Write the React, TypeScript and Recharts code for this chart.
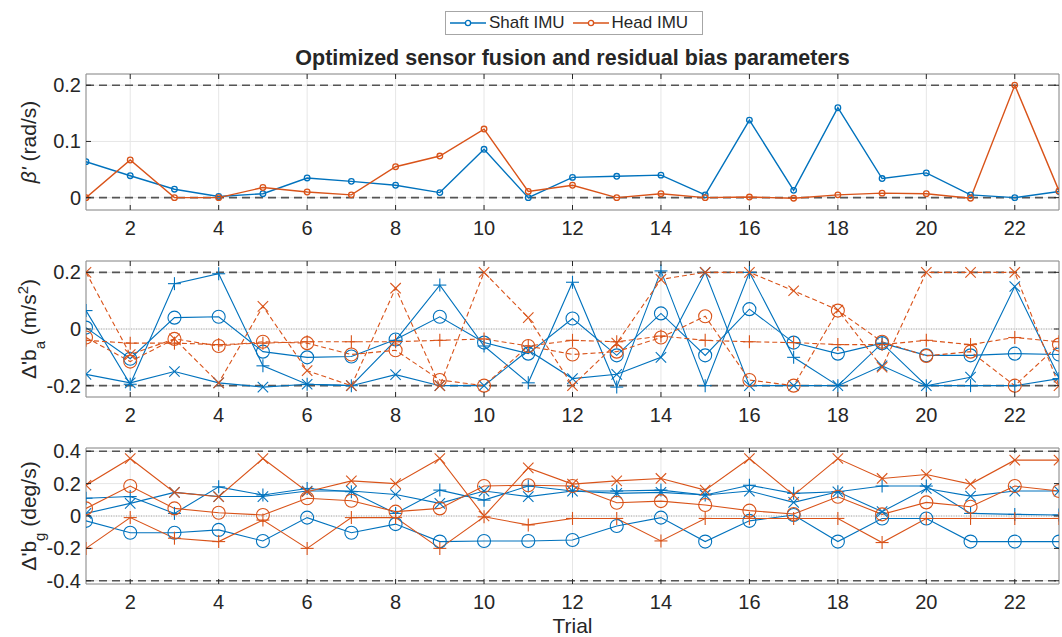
import React from 'react';
import { LineChart, Line, XAxis, YAxis, CartesianGrid, ReferenceLine, ReferenceArea } from 'recharts';

// ---------- data ----------
const trials = [1, 2, 3, 4, 5, 6, 7, 8, 9, 10, 11, 12, 13, 14, 15, 16, 17, 18, 19, 20, 21, 22, 23];
const xTicks = [2, 4, 6, 8, 10, 12, 14, 16, 18, 20, 22];

// beta' (rad/s)
const betaShaft = [0.064, 0.039, 0.015, 0.002, 0.007, 0.035, 0.029, 0.022, 0.009, 0.086, 0, 0.036, 0.038, 0.040, 0.005, 0.138, 0.013, 0.160, 0.034, 0.044, 0.005, 0, 0.011];
const betaHead = [0, 0.067, 0, 0, 0.018, 0.010, 0.005, 0.055, 0.074, 0.122, 0.011, 0.022, 0, 0.007, 0, 0.001, -0.001, 0.005, 0.008, 0.007, -0.001, 0.2, 0.012];

// residual accelerometer bias (m/s^2): x (+), y (o), z (x)
const accShaftX = [0.065, -0.195, 0.16, 0.195, -0.13, -0.195, -0.2, -0.04, 0.155, -0.06, -0.19, 0.165, -0.205, 0.205, -0.2, 0.2, -0.1, -0.2, -0.05, -0.2, -0.2, -0.2, -0.175];
const accShaftY = [0.005, -0.105, 0.04, 0.043, -0.08, -0.1, -0.097, -0.037, 0.043, -0.048, -0.087, 0.037, -0.093, 0.055, -0.093, 0.07, -0.048, -0.087, -0.05, -0.093, -0.093, -0.087, -0.09];
const accShaftZ = [-0.16, -0.19, -0.15, -0.19, -0.205, -0.195, -0.2, -0.161, -0.2, -0.2, -0.075, -0.175, -0.16, -0.1, 0.2, -0.2, -0.2, -0.2, -0.13, -0.2, -0.17, 0.15, -0.17];
const accHeadX = [-0.04, -0.05, -0.05, -0.055, -0.05, -0.045, -0.045, -0.045, -0.04, -0.035, -0.06, -0.04, -0.045, -0.025, -0.04, -0.045, -0.048, -0.055, -0.055, -0.04, -0.055, -0.03, -0.045];
const accHeadY = [-0.03, -0.115, -0.035, -0.06, -0.045, -0.05, -0.09, -0.075, -0.18, -0.2, -0.06, -0.09, -0.08, -0.03, 0.045, -0.18, -0.2, 0.065, -0.045, -0.095, -0.08, -0.2, -0.055];
const accHeadZ = [0.2, -0.09, -0.035, -0.19, 0.08, -0.147, -0.2, 0.144, -0.2, 0.2, 0.04, -0.2, -0.05, 0.175, 0.2, 0.2, 0.135, 0.067, -0.135, 0.2, 0.2, 0.2, -0.2];

// residual gyroscope bias (deg/s): x (+), y (o), z (x)
const gyrShaftX = [0.11, 0.12, 0.016, 0.18, 0.13, 0.17, 0.15, 0.016, 0.16, 0.098, 0.185, 0.154, 0.154, 0.16, 0.13, 0.19, 0.14, 0.15, 0.185, 0.185, 0.016, 0.01, 0.006];
const gyrShaftY = [-0.03, -0.103, -0.103, -0.086, -0.154, -0.01, -0.103, -0.05, -0.158, -0.154, -0.154, -0.148, -0.062, -0.01, -0.158, -0.03, 0.006, -0.158, -0.015, -0.015, -0.158, -0.158, -0.158];
const gyrShaftZ = [0.016, 0.078, 0.146, 0.12, 0.12, 0.154, 0.154, 0.133, 0.078, 0.154, 0.12, 0.154, 0.14, 0.146, 0.13, 0.154, 0.084, 0.15, 0.027, 0.17, 0.123, 0.154, 0.154];
const gyrHeadX = [-0.2, -0.01, -0.137, -0.158, -0.025, -0.2, -0.01, -0.01, -0.2, -0.005, -0.055, -0.015, -0.015, -0.154, -0.015, -0.015, -0.015, -0.015, -0.164, -0.015, -0.015, -0.015, -0.015];
const gyrHeadY = [0.047, 0.185, 0.047, 0.02, 0.006, 0.11, 0.094, 0.027, 0.047, 0.185, 0.19, 0.185, 0.082, 0.092, 0.068, 0.033, 0.012, 0.119, 0.01, 0.084, 0.057, 0.185, 0.154];
const gyrHeadZ = [0.19, 0.355, 0.146, 0.119, 0.355, 0.15, 0.217, 0.2, 0.355, 0.0, 0.297, 0.197, 0.217, 0.232, 0.16, 0.355, 0.129, 0.355, 0.232, 0.256, 0.197, 0.345, 0.345];

const betaTicks = [0, 0.1, 0.2];
const accTicks = [-0.2, 0, 0.2];
const gyrTicks = [-0.4, -0.2, 0, 0.2, 0.4];
const betaLimits = [0, 0.2];
const accLimits = [-0.2, 0.2];
const gyrLimits = [-0.4, 0.4];

// ---------- styling ----------
const BLUE = '#0072BD';
const ORANGE = '#D95319';
const FONT = '"Liberation Sans", Arial, Helvetica, sans-serif';
const TXT = '#262626';
const PLOT_W = 973;
const PLOT_H = 136;
const FRAME = '#8c8c8c';
const TICK_FS = 20;
const LABEL_FS = 21;

const betaData = trials.map((t, i) => ({ t, s: betaShaft[i], h: betaHead[i] }));
const accData = trials.map((t, i) => ({
  t, sx: accShaftX[i], sy: accShaftY[i], sz: accShaftZ[i], hx: accHeadX[i], hy: accHeadY[i], hz: accHeadZ[i],
}));
const gyrData = trials.map((t, i) => ({
  t, sx: gyrShaftX[i], sy: gyrShaftY[i], sz: gyrShaftZ[i], hx: gyrHeadX[i], hy: gyrHeadY[i], hz: gyrHeadZ[i],
}));

const XTick = (props: any) => {
  const { x, y, payload } = props;
  return (
    <g>
      <line x1={x} x2={x} y1={y} y2={y - 5} stroke={TXT} strokeWidth={1} />
      <line x1={x} x2={x} y1={y - PLOT_H} y2={y - PLOT_H + 5} stroke={TXT} strokeWidth={1} />
      <text x={x} y={y + 25} textAnchor="middle" fontSize={TICK_FS} fill={TXT} fontFamily={FONT}>{payload.value}</text>
    </g>
  );
};

const YTick = (props: any) => {
  const { x, y, payload } = props;
  return (
    <g>
      <line x1={x} x2={x + 5} y1={y} y2={y} stroke={TXT} strokeWidth={1} />
      <line x1={x + PLOT_W} x2={x + PLOT_W - 5} y1={y} y2={y} stroke={TXT} strokeWidth={1} />
      <text x={x - 5} y={y + 7} textAnchor="end" fontSize={TICK_FS} fill={TXT} fontFamily={FONT}>{String(payload.value)}</text>
    </g>
  );
};

const makeDot = (shape: string, color: string, size: number, sw: number) => (props: any) => {
  const { cx, cy, index } = props;
  if (cx == null || cy == null) return <g key={`n${index}`} />;
  if (shape === 'o') {
    return <circle key={`d${index}`} cx={cx} cy={cy} r={size} fill="none" stroke={color} strokeWidth={sw} />;
  }
  if (shape === '+') {
    return (
      <g key={`d${index}`} stroke={color} strokeWidth={sw}>
        <line x1={cx - size} x2={cx + size} y1={cy} y2={cy} />
        <line x1={cx} x2={cx} y1={cy - size} y2={cy + size} />
      </g>
    );
  }
  const s = size * 0.8;
  return (
    <g key={`d${index}`} stroke={color} strokeWidth={sw}>
      <line x1={cx - s} x2={cx + s} y1={cy - s} y2={cy + s} />
      <line x1={cx - s} x2={cx + s} y1={cy + s} y2={cy - s} />
    </g>
  );
};

type SeriesDef = { key: string; color: string; shape: string; dashed?: boolean };

const Panel = ({ top, data, domain, ticks, limits, series, small, zeroDotted }: any) => (
  <div style={{ position: 'absolute', left: 0, top }}>
    <LineChart width={1062} height={10 + PLOT_H + 30} data={data} margin={{ top: 10, right: 3, bottom: 0, left: 0 }}>
      <CartesianGrid stroke="#e6e6e6" strokeWidth={1} />
      <XAxis dataKey="t" type="number" domain={[1, 23]} ticks={xTicks} allowDataOverflow
        height={30} tickSize={0} tickMargin={0} tickLine={false} axisLine={false} tick={<XTick />} interval={0} />
      <YAxis type="number" domain={domain} ticks={ticks} allowDataOverflow width={86}
        tickSize={0} tickMargin={0} tickLine={false} axisLine={false} tick={<YTick />} interval={0} />
      {zeroDotted && <ReferenceLine y={0} stroke="#9a9a9a" strokeWidth={0.8} strokeDasharray="1 1.5" />}
      {limits.map((v: number) => (
        <ReferenceLine key={v} y={v} stroke="#555555" strokeWidth={1.6} strokeDasharray="8 5" />
      ))}
      {series.map((s: SeriesDef) => (
        <Line key={s.key} dataKey={s.key} type="linear" stroke={s.color}
          strokeWidth={small ? 1.4 : 1.1} strokeDasharray={s.dashed ? '5 3' : undefined}
          dot={makeDot(s.shape, s.color, small ? 2.8 : 6.5, small ? 1.3 : 1.1)}
          activeDot={false} isAnimationActive={false} />
      ))}
      <ReferenceArea x1={1} x2={23} y1={domain[0]} y2={domain[1]} fill="none" stroke={FRAME} strokeWidth={1} ifOverflow="visible" />
    </LineChart>
  </div>
);

const betaSeries: SeriesDef[] = [
  { key: 's', color: BLUE, shape: 'o' },
  { key: 'h', color: ORANGE, shape: 'o' },
];
const accSeries: SeriesDef[] = [
  { key: 'sx', color: BLUE, shape: '+' },
  { key: 'sy', color: BLUE, shape: 'o' },
  { key: 'sz', color: BLUE, shape: 'x' },
  { key: 'hx', color: ORANGE, shape: '+', dashed: true },
  { key: 'hy', color: ORANGE, shape: 'o', dashed: true },
  { key: 'hz', color: ORANGE, shape: 'x', dashed: true },
];
const gyrSeries: SeriesDef[] = [
  { key: 'sx', color: BLUE, shape: '+' },
  { key: 'sy', color: BLUE, shape: 'o' },
  { key: 'sz', color: BLUE, shape: 'x' },
  { key: 'hx', color: ORANGE, shape: '+' },
  { key: 'hy', color: ORANGE, shape: 'o' },
  { key: 'hz', color: ORANGE, shape: 'x' },
];

const LegendItem = ({ color, label }: any) => (
  <div style={{ display: 'flex', alignItems: 'center', marginRight: 6 }}>
    <svg width={40} height={12} style={{ display: 'block' }}>
      <line x1={2} x2={38} y1={6} y2={6} stroke={color} strokeWidth={1.4} />
      <circle cx={20} cy={6} r={2.6} fill="white" stroke={color} strokeWidth={1.3} />
    </svg>
    <span style={{ fontFamily: FONT, fontSize: 17, color: TXT, marginLeft: 1 }}>{label}</span>
  </div>
);

export default function App() {
  return (
    <div style={{ position: 'absolute', left: 0, top: 0, width: 1062, height: 637, background: 'white', overflow: 'hidden' }}>
      <Panel top={64} data={betaData} domain={[-0.022, 0.22]} ticks={betaTicks} limits={betaLimits} series={betaSeries} small />
      <Panel top={251} data={accData} domain={[-0.24, 0.24]} ticks={accTicks} limits={accLimits} series={accSeries} zeroDotted />
      <Panel top={438} data={gyrData} domain={[-0.42, 0.42]} ticks={gyrTicks} limits={gyrLimits} series={gyrSeries} zeroDotted />

      <svg width={1062} height={637} style={{ position: 'absolute', left: 0, top: 0, pointerEvents: 'none' }}>
        <text x={572.5} y={65} textAnchor="middle" fontSize={21.5} fontWeight="bold" fill={TXT} fontFamily={FONT}>
          Optimized sensor fusion and residual bias parameters
        </text>
        <text transform="translate(36,142) rotate(-90)" textAnchor="middle" fontSize={LABEL_FS} fill={TXT} fontFamily={FONT}>
          <tspan fontStyle="italic">β'</tspan> (rad/s)
        </text>
        <text transform="translate(36,329) rotate(-90)" textAnchor="middle" fontSize={LABEL_FS} fill={TXT} fontFamily={FONT}>
          Δ'b<tspan baselineShift="sub" fontSize={15}>a</tspan><tspan> (m/s</tspan><tspan baselineShift="super" fontSize={15}>2</tspan><tspan>)</tspan>
        </text>
        <text transform="translate(36,516) rotate(-90)" textAnchor="middle" fontSize={LABEL_FS} fill={TXT} fontFamily={FONT}>
          Δ'b<tspan baselineShift="sub" fontSize={15}>g</tspan><tspan> (deg/s)</tspan>
        </text>
        <text x={572.5} y={633} textAnchor="middle" fontSize={LABEL_FS} fill={TXT} fontFamily={FONT}>Trial</text>
      </svg>

      <div style={{
        position: 'absolute', left: 445, top: 11, width: 254, height: 22, border: '1px solid #a6a6a6',
        background: 'white', display: 'flex', alignItems: 'center', paddingLeft: 2, boxSizing: 'content-box',
      }}>
        <LegendItem color={BLUE} label="Shaft IMU" />
        <LegendItem color={ORANGE} label="Head IMU" />
      </div>
    </div>
  );
}
